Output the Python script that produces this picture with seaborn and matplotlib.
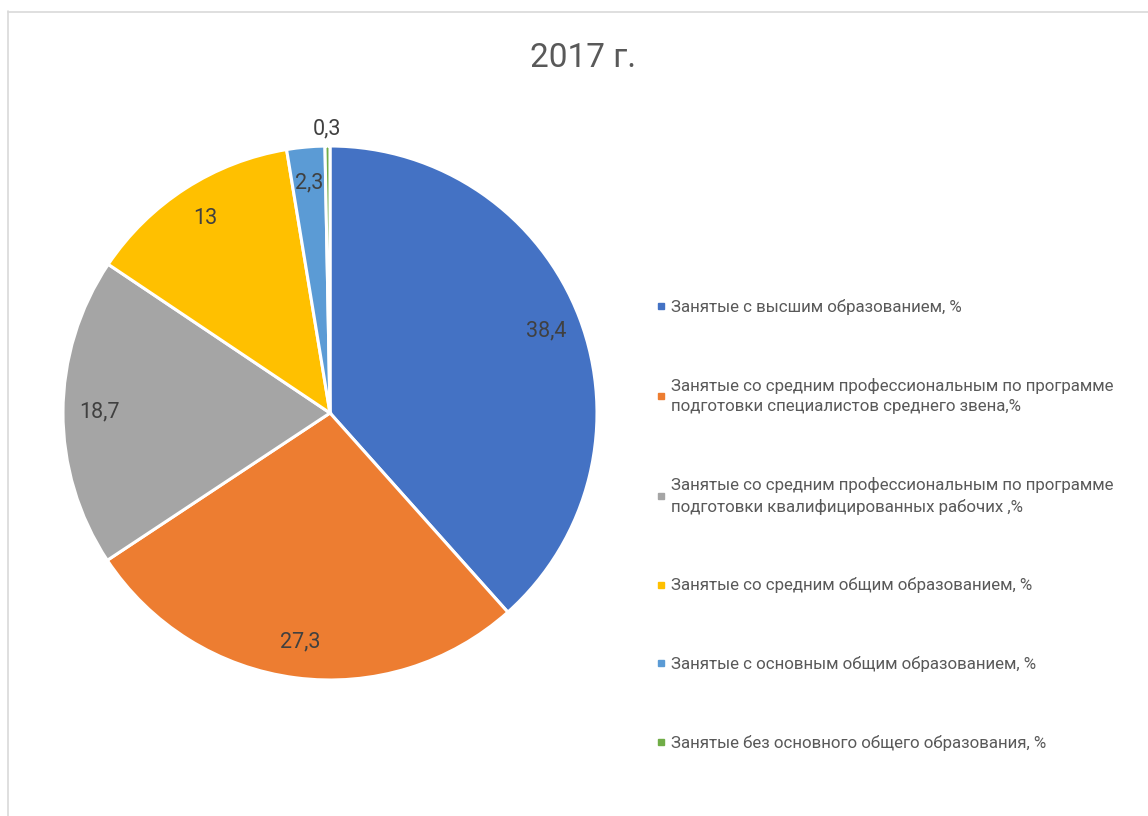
import matplotlib
matplotlib.use("Agg")
import matplotlib.pyplot as plt
from matplotlib.lines import Line2D
import numpy as np
import seaborn as sns

# Employment structure by education level, 2017
categories = [
    "Занятые с высшим образованием, %",
    "Занятые со средним профессиональным по программе\nподготовки специалистов среднего звена,%",
    "Занятые со средним профессиональным по программе\nподготовки квалифицированных рабочих ,%",
    "Занятые со средним общим образованием, %",
    "Занятые с основным общим образованием, %",
    "Занятые без основного общего образования, %",
]
values = [38.4, 27.3, 18.7, 13.0, 2.3, 0.3]
title = "2017 г."

palette_hex = ["#4472C4", "#ED7D31", "#A5A5A5", "#FFC000", "#5B9BD5", "#70AD47"]

sns.set_theme(style="white")
plt.rcParams["font.family"] = ["Roboto", "DejaVu Sans"]
colors = sns.color_palette(palette_hex)

W, H = 1148, 816
fig = plt.figure(figsize=(W / 100, H / 100), dpi=100)
fig.patch.set_facecolor("white")

# pie axes: centre (330, 413) px, radius 267 px
cx, cy, r = 330, 413, 267
ax = fig.add_axes([(cx - r) / W, (H - cy - r) / H, 2 * r / W, 2 * r / H])
wedges, _ = ax.pie(
    values,
    colors=colors,
    startangle=90,
    counterclock=False,
    radius=1.0,
    wedgeprops=dict(edgecolor="white", linewidth=2.2),
)
ax.set_xlim(-1, 1)
ax.set_ylim(-1, 1)
ax.set_aspect("equal")
ax.axis("off")

def fmt(v):
    s = f"{v:.1f}".rstrip("0").rstrip(".")
    return s.replace(".", ",")

for w, v in zip(wedges, values):
    mid = np.deg2rad((w.theta1 + w.theta2) / 2)
    dist = 1.065 if v < 1 else 0.865
    ax.text(dist * np.cos(mid), dist * np.sin(mid), fmt(v),
            ha="center", va="center", fontsize=15.5, color="#404040",
            clip_on=False)

# title
fig.text(583 / W, 1 - 67 / H, title, ha="center", va="baseline",
         fontsize=24, color="#595959")

# legend
handles = [Line2D([0], [0], marker="s", linestyle="none", markersize=5,
                  markerfacecolor=c, markeredgecolor=c) for c in colors]
leg = fig.legend(handles, categories, loc="center left",
                 bbox_to_anchor=(657 / W, 1 - 525 / H),
                 frameon=False, fontsize=12.2, labelspacing=3.7,
                 handlelength=0.5, handletextpad=0.3, borderpad=0,
                 borderaxespad=0)
for t in leg.get_texts():
    t.set_color("#595959")
    t.set_linespacing(1.45)

# chart area border
fig.add_artist(Line2D([7.5 / W, 7.5 / W], [0, 1 - 11 / H],
                      transform=fig.transFigure, color="#D9D9D9", lw=1.2))
fig.add_artist(Line2D([7.5 / W, 1], [1 - 11.5 / H, 1 - 11.5 / H],
                      transform=fig.transFigure, color="#D9D9D9", lw=1.2))

fig.savefig("out.png", dpi=100, facecolor="white")
